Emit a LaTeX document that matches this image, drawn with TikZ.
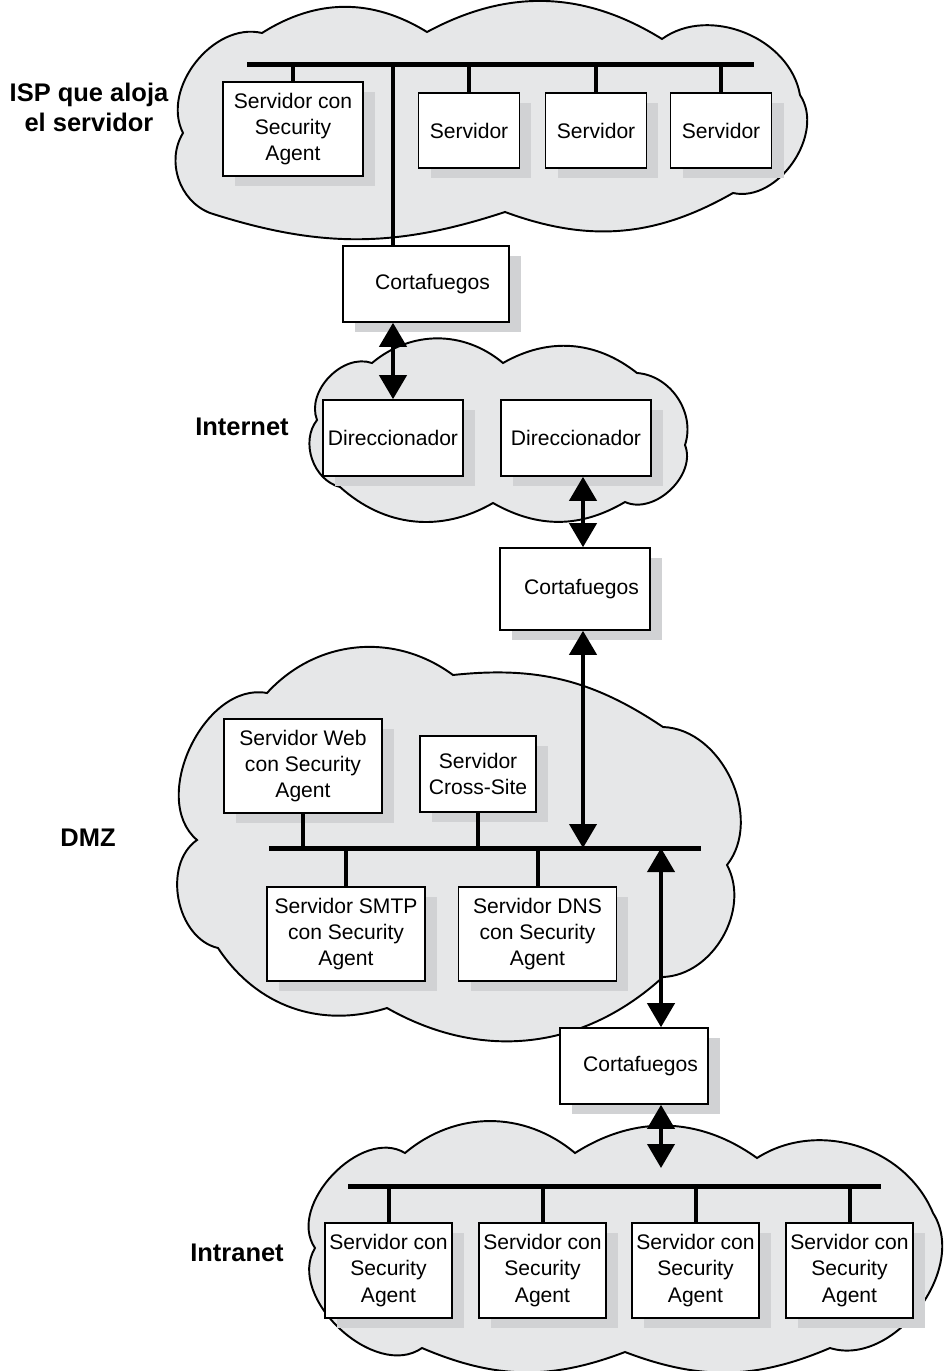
\documentclass[tikz,border=0pt]{standalone}
\usepackage{fontspec}
\setmainfont{Liberation Sans}
\usepackage{tikz}
\usetikzlibrary{arrows.meta, shadows}
\definecolor{cloudgray}{HTML}{E6E7E8}
\definecolor{shadowgray}{HTML}{D1D2D4}

\begin{document}
\begin{tikzpicture}[
  x=0.02cm, y=-0.02cm,
  box/.style={rectangle, draw=black, line width=0.9pt, fill=white, align=center,
             inner sep=0pt, font=\fontsize{12}{15}\selectfont,
             drop shadow={shadow xshift=0.24cm, shadow yshift=-0.2cm, fill=shadowgray, opacity=1}},
  agentbox/.style={box, minimum width=2.54cm, minimum height=1.9cm},
  servbox/.style={box, minimum width=2.02cm, minimum height=1.5cm},
  dmzbox/.style={box, minimum width=3.16cm, minimum height=1.88cm},
  routerbox/.style={box, minimum height=1.52cm},
  fwbox/.style={box, minimum height=1.52cm, execute at begin node={\hspace*{0.26cm}}},
  netlabel/.style={font=\fontsize{14.5}{17}\selectfont\bfseries, align=center},
  cloudshape/.style={draw=black, line width=1.1pt, fill=cloudgray},
  bus/.style={line width=0.1cm},
  drop/.style={line width=0.08cm},
  arrow/.style={{Triangle[width=0.54cm,length=0.48cm]}-{Triangle[width=0.54cm,length=0.48cm]}, line width=0.08cm}
]
\useasboundingbox (0,0) rectangle (943,1371);

% clouds
\draw[cloudshape] (183,133) to[bend left=65] (262,33) to[bend left=32] (427,32)
  to[bend left=30] (662,39) to[bend left=58] (800,95) to[bend left=68] (733,193)
  to[bend left=25] (505,212) to[bend left=18] (210,213) to[bend left=50] (183,133) -- cycle;
\draw[cloudshape] (317,420) to[bend left=65] (372,363) to[bend left=40] (503,363)
  to[bend left=34] (637,373) to[bend left=52] (685,445) to[bend left=68] (625,502)
  to[bend left=30] (493,503) to[bend left=36] (340,487) to[bend left=57] (317,420) -- cycle;
\draw[cloudshape] (197,840) to[bend left=75] (267,693) to[bend left=42] (453,675)
  to[bend left=20] (663,727) to[bend left=63] (727,865) to[bend left=58] (663,977)
  to[bend left=36] (387,1008) to[bend left=37] (218,948) to[bend left=66] (197,840) -- cycle;
\draw[cloudshape] (315,1248) to[bend left=78] (405,1153) to[bend left=40] (575,1153)
  to[bend left=34] (757,1158) to[bend left=50] (933,1213) to[bend left=70] (830,1348)
  to[bend left=22] (625,1352) to[bend left=22] (422,1348) to[bend left=78] (315,1248) -- cycle;

% labels
\node[netlabel] (isplbl) at (89,107) {ISP que aloja\\el servidor};
\node[netlabel] (netlbl) at (242,427) {Internet};
\node[netlabel] (dmzlbl) at (88,838) {DMZ};
\node[netlabel] (intlbl) at (237,1253) {Intranet};

% ISP
\node[box, minimum width=2.8cm, minimum height=1.88cm] (isp1) at (293,129) {Servidor con\\Security\\Agent};
\node[servbox] (isp2) at (469,130.5) {Servidor};
\node[servbox] (isp3) at (596,130.5) {Servidor};
\node[servbox] (isp4) at (721,130.5) {Servidor};
\node[fwbox, minimum width=3.32cm] (cort1) at (426,284) {Cortafuegos};

% Internet
\node[routerbox, minimum width=2.8cm] (dir1) at (393,438) {Direccionador};
\node[routerbox, minimum width=3.0cm] (dir2) at (576,438) {Direccionador};
\node[fwbox, minimum width=3.0cm, minimum height=1.64cm] (cort2) at (575,589) {Cortafuegos};

% DMZ
\node[dmzbox] (web) at (303,766) {Servidor Web\\con Security\\Agent};
\node[box, minimum width=2.32cm, minimum height=1.52cm] (cross) at (478,774) {Servidor\\Cross-Site};
\node[dmzbox] (smtp) at (346,934) {Servidor SMTP\\con Security\\Agent};
\node[dmzbox] (dns) at (537.5,934) {Servidor DNS\\con Security\\Agent};
\node[fwbox, minimum width=2.96cm] (cort3) at (634,1066) {Cortafuegos};

% Intranet
\foreach \i/\x in {1/388.5, 2/542.5, 3/695.5, 4/849.5}
  \node[agentbox] (int\i) at (\x,1270.5) {Servidor con\\Security\\Agent};

\coordinate (ispL) at (247,65);
\coordinate (ispR) at (754,65);
\coordinate (ispT) at (393,65);
\coordinate (dmzL) at (269,848);
\coordinate (dmzR) at (701,848);
\coordinate (upl) at (583,848);
\coordinate (dnl) at (661,848);
\coordinate (intL) at (348,1186);
\coordinate (intR) at (881,1186);
\coordinate (inTip) at (661,1168);

% buses
\draw[bus] (ispL) -- (ispR);
\foreach \n in {isp1, isp2, isp3, isp4}
  \draw[drop] (\n.north) -- (\n.north |- ispL);
\draw[drop] (ispT) -- (ispT |- cort1.north);

\draw[bus] (dmzL) -- (dmzR);
\foreach \n in {web, cross}
  \draw[drop] (\n.south) -- (\n.south |- dmzL);
\foreach \n in {smtp, dns}
  \draw[drop] (\n.north) -- (\n.north |- dmzL);

\draw[bus] (intL) -- (intR);
\foreach \i in {1,...,4}
  \draw[drop] (int\i.north) -- (int\i.north |- intL);

% links
\draw[arrow] (ispT |- cort1.south) -- (ispT |- dir1.north);
\draw[arrow] (upl |- dir2.south) -- (upl |- cort2.north);
\draw[arrow] (upl |- cort2.south) -- (upl);
\draw[arrow] (dnl) -- (dnl |- cort3.north);
\draw[arrow] (dnl |- cort3.south) -- (inTip);

\end{tikzpicture}
\end{document}
